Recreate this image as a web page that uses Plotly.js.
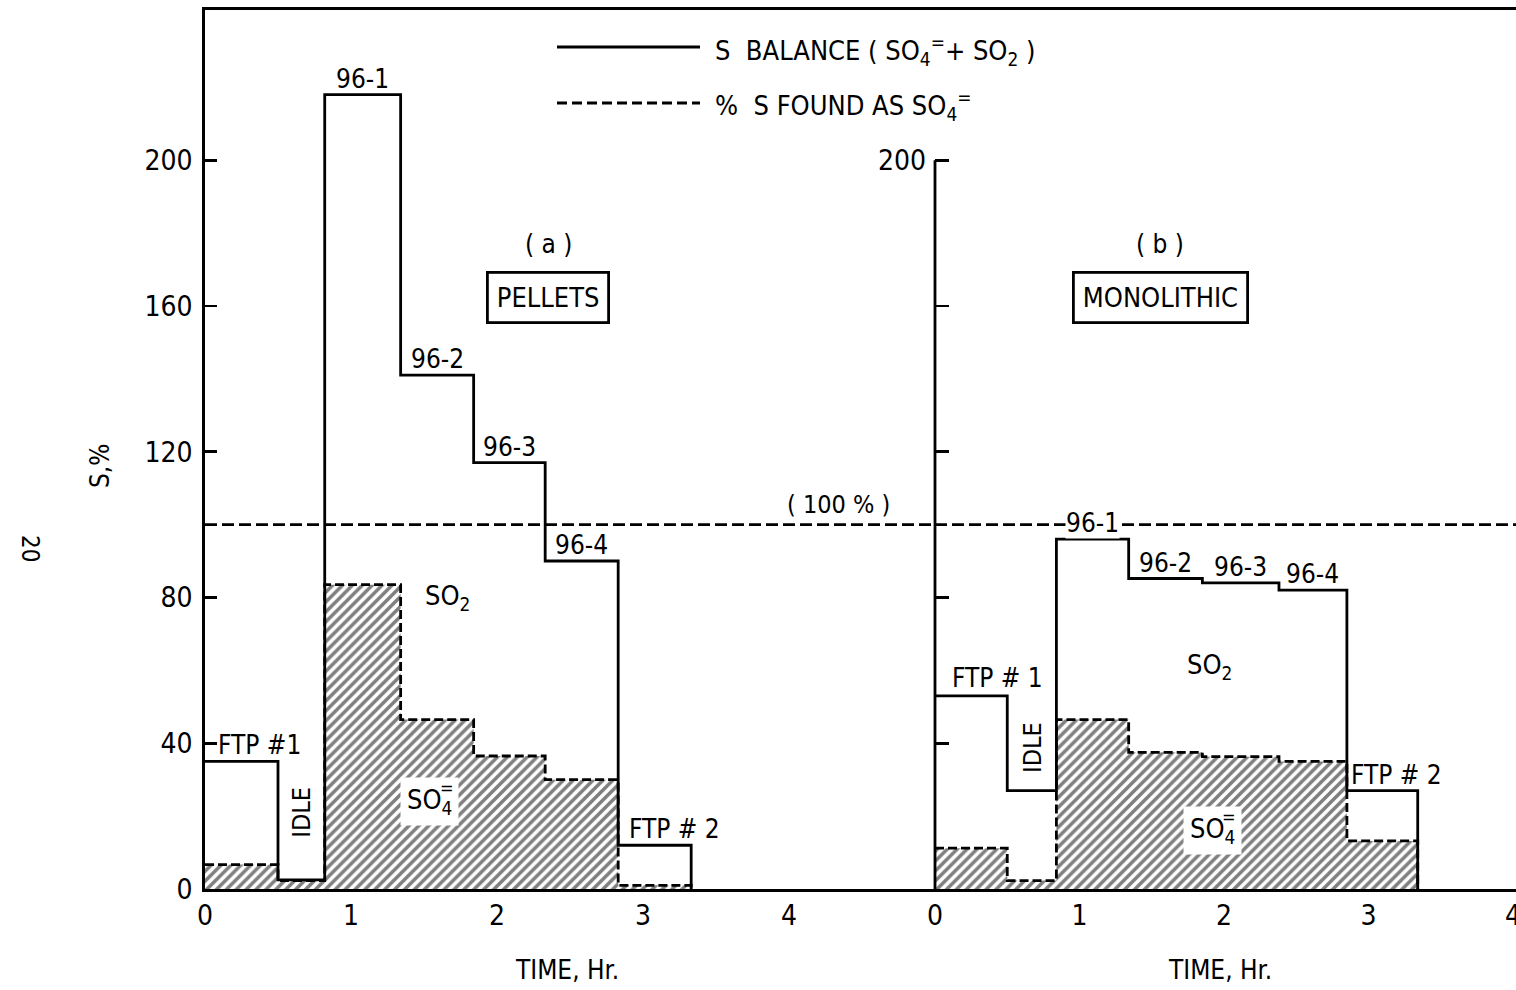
<!DOCTYPE html>
<html>
<head>
<meta charset="utf-8">
<script src="https://cdn.plot.ly/plotly-3.0.1.min.js"></script>
<style>html,body{margin:0;padding:0;background:#fff;}#chart{width:1516px;height:990px;}</style>
</head>
<body>
<div id="chart"></div>
<script>
// ---- DATA ----
const SEGMENTS = ['FTP #1', 'IDLE', '96-1', '96-2', '96-3', '96-4', 'FTP #2'];
// Panel (a) pellets
const HOURS_A = [0, 0.5, 0.82, 1.34, 1.84, 2.33, 2.83, 3.33];
const TOTAL_A = [35, 2.5, 218, 141, 117, 90, 12];
const SO4_A   = [6.7, 2.3, 83.5, 46.5, 36.5, 30, 1];
const LABELS_A = ['FTP #1', 'IDLE', '96-1', '96-2', '96-3', '96-4', 'FTP # 2'];
// Panel (b) monolithic
const HOURS_B = [0, 0.5, 0.84, 1.34, 1.85, 2.38, 2.85, 3.34];
const TOTAL_B = [53, 27, 96, 85.2, 84, 82, 27];
const SO4_B   = [11.2, 2.3, 46.5, 37.5, 36.3, 35, 13.2];
const LABELS_B = ['FTP # 1', 'IDLE', '96-1', '96-2', '96-3', '96-4', 'FTP # 2'];
const REF_LEVEL = 100;
const X_TICKS = [0, 1, 2, 3, 4];
const Y_TICKS = [0, 40, 80, 120, 160, 200];
const Y_TICKS_B = [40, 80, 120, 160, 200];
const Y_TICKTEXT_B = ['', '', '', '', '200'];

// ---- STYLE ----
const FONT = 'DejaVu Sans Condensed, Liberation Sans Narrow, DejaVu Sans, sans-serif';
const LW = 2.8;
const W = 1516, H = 990, ML = 205, MT = 10, MB = 101;
const PW = W - ML, PH = H - MT - MB;
const px = v => (v - ML) / PW;            // pixel -> paper x
const py = v => (H - MB - v) / PH;        // pixel -> paper y
const SPLIT = px(935);
const yRange = [0, 241.2];

function stepY(vals) { return vals.concat([0]); }

const hatch = {shape: '/', size: 7, solidity: 0.5, fgcolor: '#000', bgcolor: '#fff', fillmode: 'overlay'};

const traces = [];
[['x', 'y', HOURS_A, TOTAL_A, SO4_A, 5.0], ['x2', 'y2', HOURS_B, TOTAL_B, SO4_B, 4.02]].forEach(([xa, ya, hx, tot, so4, xmax]) => {
  traces.push({
    type: 'scatter', mode: 'lines', xaxis: xa, yaxis: ya,
    x: hx, y: stepY(so4), line: {shape: 'hv', color: '#000', width: LW, dash: '9px,4px'},
    fill: 'tozeroy', fillcolor: '#fff', fillpattern: hatch, showlegend: false, hoverinfo: 'skip'
  });
  traces.push({
    type: 'scatter', mode: 'lines', xaxis: xa, yaxis: ya,
    x: hx, y: stepY(tot), line: {shape: 'hv', color: '#000', width: LW}, showlegend: false, hoverinfo: 'skip'
  });
  traces.push({
    type: 'scatter', mode: 'lines', xaxis: xa, yaxis: ya,
    x: [0, xmax], y: [REF_LEVEL, REF_LEVEL], line: {color: '#000', width: LW, dash: '12px,5px'}, showlegend: false, hoverinfo: 'skip'
  });
});

const annotations = [];
function segLabels(hx, tot, labels, xa, ya, opts) {
  labels.forEach((t, i) => {
    const o = opts[i] || {};
    const mid = (hx[i] + hx[i + 1]) / 2;
    if (t === 'IDLE') {
      annotations.push({xref: xa, yref: ya, x: mid, y: tot[i], xanchor: 'center', yanchor: 'bottom', yshift: o.yshift || 0,
        text: t, textangle: -90, showarrow: false, font: {family: FONT, size: 25, color: '#000'}});
    } else {
      annotations.push({xref: xa, yref: ya, x: mid, y: tot[i], xanchor: 'center', yanchor: 'bottom', xshift: o.xshift || 0, yshift: o.yshift || 0,
        text: t, showarrow: false, bgcolor: o.bg ? '#fff' : 'rgba(0,0,0,0)', borderpad: 0,
        font: {family: FONT, size: 26, color: '#000'}});
    }
  });
}
segLabels(HOURS_A, TOTAL_A, LABELS_A, 'x', 'y', [{xshift: 18, yshift: 0}, {yshift: 40}, {}, {}, {}, {}, {xshift: 20}]);
segLabels(HOURS_B, TOTAL_B, LABELS_B, 'x2', 'y2', [{xshift: 26, yshift: 2}, {yshift: 16}, {bg: true, yshift: 0}, {}, {}, {}, {xshift: 14}]);

function txt(x, y, text, size, extra) {
  return Object.assign({xref: 'paper', yref: 'paper', x: px(x), y: py(y), xanchor: 'center', yanchor: 'middle',
    text: text, showarrow: false, font: {family: FONT, size: size, color: '#000'}}, extra || {});
}
// species labels
annotations.push({xref: 'x', yref: 'y', x: 1.66, y: 80, text: 'SO<sub>2</sub>', showarrow: false, font: {family: FONT, size: 27, color: '#000'}});
annotations.push({xref: 'x2', yref: 'y2', x: 1.9, y: 61, text: 'SO<sub>2</sub>', showarrow: false, font: {family: FONT, size: 27, color: '#000'}});
annotations.push({xref: 'x', yref: 'y', x: 1.54, y: 24, text: 'SO<sub>4</sub>', showarrow: false, bgcolor: '#fff', borderpad: 6, font: {family: FONT, size: 27, color: '#000'}});
annotations.push({xref: 'x', yref: 'y', x: 1.54, y: 24, xshift: 17, yshift: 14, text: '=', showarrow: false, font: {family: FONT, size: 18, color: '#000'}});
annotations.push({xref: 'x2', yref: 'y2', x: 1.92, y: 16, text: 'SO<sub>4</sub>', showarrow: false, bgcolor: '#fff', borderpad: 6, font: {family: FONT, size: 27, color: '#000'}});
annotations.push({xref: 'x2', yref: 'y2', x: 1.92, y: 16, xshift: 17, yshift: 14, text: '=', showarrow: false, font: {family: FONT, size: 18, color: '#000'}});
annotations.push({xref: 'x', yref: 'y', x: 4.34, y: REF_LEVEL, xanchor: 'center', yanchor: 'bottom', yshift: 4, text: '( 100 % )', showarrow: false, font: {family: FONT, size: 25, color: '#000'}});

// panel titles
annotations.push(txt(548, 244, '( a )', 26));
annotations.push(txt(548, 297, 'PELLETS', 27, {bordercolor: '#000', borderwidth: LW, borderpad: 8, bgcolor: '#fff'}));
annotations.push(txt(1160, 244, '( b )', 26));
annotations.push(txt(1160, 297, 'MONOLITHIC', 27, {bordercolor: '#000', borderwidth: LW, borderpad: 8, bgcolor: '#fff'}));

// legend
annotations.push(txt(713, 50, 'S  BALANCE ( SO<sub>4</sub><sup>=</sup>+ SO<sub>2</sub> )', 27, {xanchor: 'left'}));
annotations.push(txt(713, 106, '%  S FOUND AS SO<sub>4</sub><sup>=</sup>', 27, {xanchor: 'left'}));

// axis titles & page number
annotations.push(txt(567, 970, 'TIME, Hr.', 26));
annotations.push(txt(1220, 970, 'TIME, Hr.', 26));
annotations.push(txt(100, 465, 'S,%', 26, {textangle: -90}));
annotations.push(txt(30, 548, '20', 24, {textangle: 90}));

const shapes = [
  {type: 'line', xref: 'paper', yref: 'paper', x0: SPLIT, x1: SPLIT, y0: 0, y1: 200 / yRange[1], line: {color: '#000', width: LW}},
  {type: 'line', xref: 'paper', yref: 'paper', x0: px(557), x1: px(700), y0: py(47), y1: py(47), line: {color: '#000', width: LW}},
  {type: 'line', xref: 'paper', yref: 'paper', x0: px(557), x1: px(700), y0: py(103), y1: py(103), line: {color: '#000', width: LW, dash: '10px,5px'}}
];

const layout = {
  width: W, height: H,
  margin: {l: ML, r: 0, t: MT, b: MB, pad: 0},
  paper_bgcolor: '#fff', plot_bgcolor: '#fff',
  showlegend: false,
  font: {family: FONT, color: '#000', size: 28},
  xaxis: {domain: [0, SPLIT], range: [0, 5.0], anchor: 'y', tickvals: X_TICKS, ticks: '',
    showline: true, mirror: true, linecolor: '#000', linewidth: LW, showgrid: false, zeroline: false,
    tickfont: {family: FONT, size: 28}, fixedrange: true},
  yaxis: {domain: [0, 1], range: yRange, anchor: 'x', tickvals: Y_TICKS, ticks: 'inside', ticklen: 12, tickwidth: LW, tickcolor: '#000',
    showline: true, linecolor: '#000', linewidth: LW, showgrid: false, zeroline: false, ticklabelstandoff: 4,
    tickfont: {family: FONT, size: 28}, fixedrange: true},
  xaxis2: {domain: [SPLIT, 1], range: [0, 4.02], anchor: 'y2', tickvals: X_TICKS, ticks: '',
    showline: true, mirror: true, linecolor: '#000', linewidth: LW, showgrid: false, zeroline: false,
    ticklabeloverflow: 'allow', tickfont: {family: FONT, size: 28}, fixedrange: true},
  yaxis2: {domain: [0, 1], range: yRange, anchor: 'x2', tickvals: Y_TICKS_B, ticktext: Y_TICKTEXT_B,
    ticks: 'inside', ticklen: 14, tickwidth: LW, tickcolor: '#000', showline: false, showgrid: false, zeroline: false,
    ticklabelstandoff: 8, tickfont: {family: FONT, size: 28}, fixedrange: true},
  annotations: annotations,
  shapes: shapes
};

Plotly.newPlot('chart', traces, layout, {displayModeBar: false, staticPlot: true});
</script>
</body>
</html>
